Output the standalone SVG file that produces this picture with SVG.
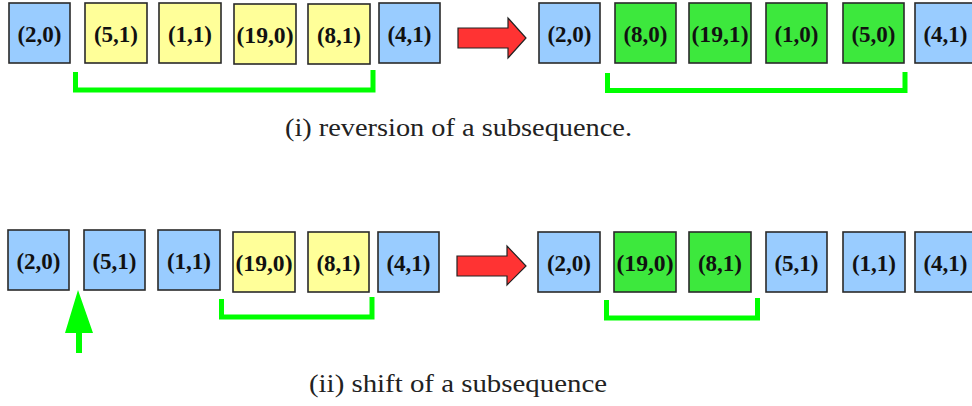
<svg xmlns="http://www.w3.org/2000/svg" width="972" height="406" viewBox="0 0 972 406">
<style>
rect.b{stroke:#2a2a2a;stroke-width:1.6}
.blue{fill:#99ccff}
.yel{fill:#ffff99}
.grn{fill:#3de83d}
text.t{font-family:"Liberation Serif",serif;font-size:23px;font-weight:bold;fill:#111;text-anchor:middle}
.br{fill:none;stroke:#00ff00;stroke-width:5}
.cap{font-family:"Liberation Serif",serif;font-size:25px;fill:#222}
</style>
<rect width="972" height="406" fill="#fff"/>
<g id="a1"><rect class="b blue" x="9" y="3" width="61" height="60"/><text class="t" x="39.5" y="42">(2,0)</text></g>
<g id="a2"><rect class="b yel" x="85" y="3" width="62" height="60"/><text class="t" x="116" y="42">(5,1)</text></g>
<g id="a3"><rect class="b yel" x="159" y="3" width="62" height="60"/><text class="t" x="190" y="42">(1,1)</text></g>
<g id="a4"><rect class="b yel" x="234" y="4" width="62" height="60"/><text class="t" x="265" y="43" textLength="57" lengthAdjust="spacingAndGlyphs">(19,0)</text></g>
<g id="a5"><rect class="b yel" x="308" y="4" width="62" height="60"/><text class="t" x="339" y="43">(8,1)</text></g>
<g id="a6"><rect class="b blue" x="379" y="3" width="61" height="60"/><text class="t" x="409.5" y="42">(4,1)</text></g>
<g id="b1"><rect class="b blue" x="539" y="3" width="61" height="60"/><text class="t" x="569.5" y="42">(2,0)</text></g>
<g id="b2"><rect class="b grn" x="615" y="3" width="61" height="60"/><text class="t" x="645.5" y="42">(8,0)</text></g>
<g id="b3"><rect class="b grn" x="689" y="3" width="62" height="60"/><text class="t" x="720" y="42" textLength="57" lengthAdjust="spacingAndGlyphs">(19,1)</text></g>
<g id="b4"><rect class="b grn" x="766" y="3" width="61" height="60"/><text class="t" x="796.5" y="42">(1,0)</text></g>
<g id="b5"><rect class="b grn" x="843" y="3" width="61" height="60"/><text class="t" x="873.5" y="42">(5,0)</text></g>
<g id="b6"><rect class="b blue" x="915" y="3" width="61" height="60"/><text class="t" x="945.5" y="42">(4,1)</text></g>
<g id="c1"><rect class="b blue" x="8" y="230" width="61" height="60"/><text class="t" x="38.5" y="269">(2,0)</text></g>
<g id="c2"><rect class="b blue" x="84" y="230" width="61" height="60"/><text class="t" x="114.5" y="269">(5,1)</text></g>
<g id="c3"><rect class="b blue" x="158" y="230" width="62" height="60"/><text class="t" x="189" y="269">(1,1)</text></g>
<g id="c4"><rect class="b yel" x="233" y="232" width="62" height="60"/><text class="t" x="264" y="271" textLength="57" lengthAdjust="spacingAndGlyphs">(19,0)</text></g>
<g id="c5"><rect class="b yel" x="308" y="232" width="61" height="60"/><text class="t" x="338.5" y="271">(8,1)</text></g>
<g id="c6"><rect class="b blue" x="378" y="232" width="61" height="60"/><text class="t" x="408.5" y="271">(4,1)</text></g>
<g id="d1"><rect class="b blue" x="538" y="232" width="62" height="60"/><text class="t" x="569" y="271">(2,0)</text></g>
<g id="d2"><rect class="b grn" x="614" y="232" width="62" height="60"/><text class="t" x="645" y="271" textLength="57" lengthAdjust="spacingAndGlyphs">(19,0)</text></g>
<g id="d3"><rect class="b grn" x="689" y="232" width="62" height="60"/><text class="t" x="720" y="271">(8,1)</text></g>
<g id="d4"><rect class="b blue" x="766" y="232" width="61" height="60"/><text class="t" x="796.5" y="271">(5,1)</text></g>
<g id="d5"><rect class="b blue" x="843" y="232" width="62" height="60"/><text class="t" x="874" y="271">(1,1)</text></g>
<g id="d6"><rect class="b blue" x="915" y="232" width="61" height="60"/><text class="t" x="945.5" y="271">(4,1)</text></g>
<g id="connectors">
<path class="br" d="M75.5,72 V90 H373 V70"/>
<path class="br" d="M607.5,73 V90.5 H905 V72"/>
<path class="br" d="M221.5,299 V317 H372 V297"/>
<path class="br" d="M606.5,300 V318 H757.5 V298"/>
<polygon points="458,28 508,28 508,18 526,38 508,58 508,48 458,48" fill="#ff3333" stroke="#222" stroke-width="1.2"/>
<polygon points="457,256 507,256 507,246 526,266 507,285 507,276 457,276" fill="#ff3333" stroke="#222" stroke-width="1.2"/>
<polygon points="78,290 93,333 82,333 82,353 76,353 76,333 65,333" fill="#00ff00"/>
</g>
<text class="cap" x="285" y="136" textLength="347" lengthAdjust="spacingAndGlyphs">(i) reversion of a subsequence.</text>
<text class="cap" x="309" y="392" textLength="298" lengthAdjust="spacingAndGlyphs">(ii) shift of a subsequence</text>
</svg>
